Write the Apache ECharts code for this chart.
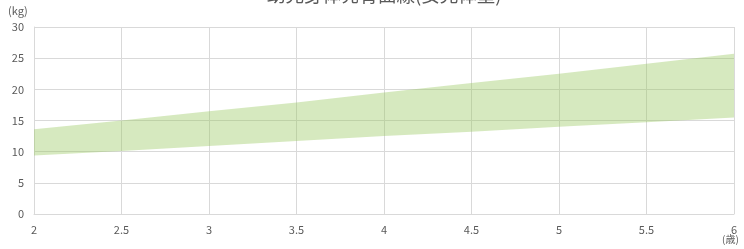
<!DOCTYPE html>
<html>
<head>
<meta charset="utf-8">
<script src="https://cdn.jsdelivr.net/npm/echarts@6/dist/echarts.min.js"></script>
<style>
  html, body { margin: 0; padding: 0; background: #fff; }
  #chart { width: 744px; height: 249px; }
</style>
</head>
<body>
<div id="chart"></div>
<script>
// age in years, 3rd / 97th percentile weight (kg)
const ages = ['2', '2.5', '3', '3.5', '4', '4.5', '5', '5.5', '6'];
const lower = [9.4, 10.1, 10.9, 11.7, 12.5, 13.2, 14.0, 14.7, 15.5];
const upper = [13.6, 15.0, 16.5, 17.9, 19.5, 21.0, 22.5, 24.1, 25.7];

const titleText = '幼児身体発育曲線(女児体重)';
const bandColor = 'rgba(153,200,95,0.4)';
const textColor = '#595959';
const gridColor = '#d9d9d9';

const chart = echarts.init(document.getElementById('chart'));

const option = {
    animation: false,
    textStyle: { fontFamily: '"Noto Sans CJK JP", "Noto Sans", sans-serif' },
    graphic: [{
        type: 'text',
        left: 267,
        top: -14,
        style: { text: titleText, fill: textColor, font: '18.5px "Noto Sans CJK JP"' }
    }, {
        type: 'text',
        left: 8,
        top: 5,
        style: { text: '(kg)', fill: textColor, font: '11px "Noto Sans CJK JP"' }
    }, {
        type: 'text',
        left: 722,
        top: 234,
        style: { text: '(歳)', fill: textColor, font: '10px "Noto Sans CJK JP"' }
    }],
    grid: { left: 34, right: 10, top: 27, bottom: 35 },
    xAxis: {
        type: 'category',
        boundaryGap: false,
        data: ages,
        axisLine: { show: true, lineStyle: { color: gridColor } },
        axisTick: { show: false },
        axisLabel: { color: textColor, fontSize: 11, margin: 10 },
        splitLine: { show: true, lineStyle: { color: gridColor } }
    },
    yAxis: {
        type: 'value',
        min: 0,
        max: 30,
        interval: 5,
        axisLine: { show: true, lineStyle: { color: gridColor } },
        axisTick: { show: false },
        axisLabel: { color: textColor, fontSize: 11, margin: 10 },
        splitLine: { show: true, lineStyle: { color: gridColor } }
    },
    series: [{
        name: 'lower',
        type: 'line',
        stack: 'band',
        symbol: 'none',
        lineStyle: { opacity: 0 },
        data: lower
    }, {
        name: 'range',
        type: 'line',
        stack: 'band',
        symbol: 'none',
        lineStyle: { opacity: 0 },
        areaStyle: { color: bandColor, opacity: 1 },
        data: upper.map((u, i) => +(u - lower[i]).toFixed(1))
    }]
};

chart.setOption(option);
</script>
</body>
</html>
